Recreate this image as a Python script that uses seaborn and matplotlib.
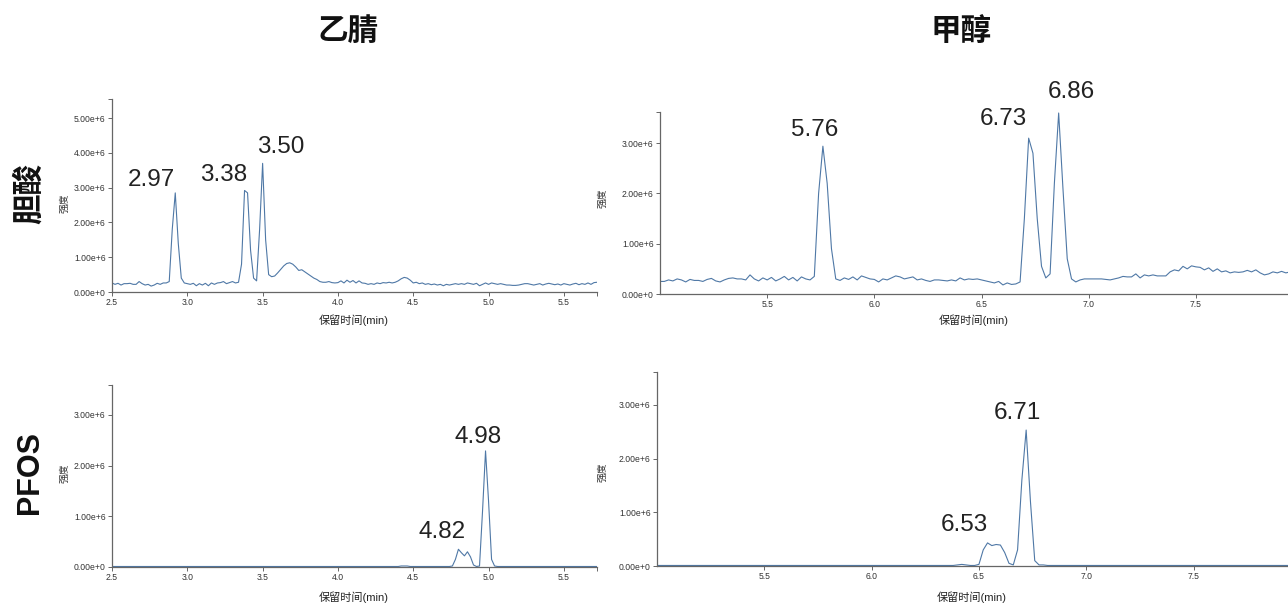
import numpy as np
import matplotlib
matplotlib.use("Agg")
import matplotlib.pyplot as plt
from matplotlib.ticker import FuncFormatter
import seaborn as sns

# column / row titles
col_titles = ["乙腈", "甲醇"]
row_titles = ["胆酸", "PFOS"]
x_label = "保留时间(min)"
y_label = "强度"

# sampling grids: start time (min) and step
acn_t0, meoh_t0, step = 2.50, 5.00, 0.02

# intensities in 1e6 units
cholic_acn = [
    0.26, 0.22, 0.25, 0.20, 0.24, 0.24, 0.25, 0.22, 0.22, 0.30,
    0.24, 0.20, 0.22, 0.17, 0.20, 0.25, 0.22, 0.26, 0.26, 0.30,
    1.80, 2.85, 1.40, 0.40, 0.26, 0.24, 0.22, 0.25, 0.18, 0.24,
    0.20, 0.25, 0.18, 0.26, 0.22, 0.26, 0.27, 0.30, 0.24, 0.27,
    0.30, 0.26, 0.28, 0.80, 2.92, 2.85, 1.20, 0.40, 0.32, 1.80,
    3.70, 1.50, 0.50, 0.44, 0.46, 0.55, 0.65, 0.75, 0.82, 0.84,
    0.80, 0.72, 0.62, 0.64, 0.58, 0.52, 0.46, 0.40, 0.36, 0.30,
    0.28, 0.28, 0.30, 0.27, 0.26, 0.27, 0.32, 0.26, 0.34, 0.28,
    0.33, 0.26, 0.32, 0.26, 0.25, 0.22, 0.24, 0.22, 0.26, 0.24,
    0.27, 0.26, 0.28, 0.26, 0.28, 0.32, 0.38, 0.42, 0.40, 0.34,
    0.26, 0.28, 0.24, 0.26, 0.22, 0.24, 0.21, 0.23, 0.20, 0.22,
    0.18, 0.22, 0.20, 0.22, 0.24, 0.22, 0.24, 0.22, 0.26, 0.24,
    0.22, 0.25, 0.18, 0.22, 0.26, 0.22, 0.26, 0.24, 0.22, 0.24,
    0.22, 0.20, 0.20, 0.19, 0.19, 0.20, 0.22, 0.24, 0.24, 0.22,
    0.20, 0.22, 0.24, 0.20, 0.23, 0.25, 0.23, 0.21, 0.23, 0.20,
    0.24, 0.22, 0.20, 0.23, 0.25, 0.21, 0.24, 0.22, 0.26, 0.22,
    0.27, 0.28,
]
cholic_meoh = [
    0.25, 0.25, 0.28, 0.26, 0.30, 0.28, 0.24, 0.29, 0.27, 0.27,
    0.25, 0.29, 0.31, 0.26, 0.24, 0.28, 0.31, 0.32, 0.30, 0.30,
    0.28, 0.38, 0.30, 0.26, 0.32, 0.28, 0.33, 0.26, 0.30, 0.35,
    0.28, 0.33, 0.26, 0.34, 0.30, 0.28, 0.35, 2.00, 2.94, 2.20,
    0.90, 0.30, 0.27, 0.32, 0.29, 0.34, 0.28, 0.36, 0.33, 0.30,
    0.29, 0.24, 0.30, 0.28, 0.32, 0.36, 0.34, 0.30, 0.32, 0.34,
    0.28, 0.30, 0.27, 0.25, 0.28, 0.28, 0.27, 0.26, 0.28, 0.26,
    0.32, 0.28, 0.30, 0.29, 0.30, 0.28, 0.26, 0.24, 0.22, 0.25,
    0.18, 0.22, 0.19, 0.20, 0.24, 1.50, 3.10, 2.80, 1.50, 0.55,
    0.32, 0.40, 2.20, 3.60, 2.10, 0.70, 0.30, 0.24, 0.28, 0.30,
    0.30, 0.30, 0.30, 0.30, 0.29, 0.28, 0.30, 0.32, 0.35, 0.34,
    0.34, 0.40, 0.32, 0.38, 0.36, 0.38, 0.36, 0.36, 0.36, 0.44,
    0.48, 0.46, 0.55, 0.50, 0.56, 0.54, 0.53, 0.48, 0.52, 0.45,
    0.50, 0.44, 0.46, 0.42, 0.44, 0.43, 0.44, 0.47, 0.44, 0.48,
    0.42, 0.38, 0.40, 0.44, 0.42, 0.45, 0.42, 0.44,
]
pfos_acn = [
    0.01, 0.01, 0.01, 0.01, 0.01, 0.01, 0.01, 0.01, 0.01, 0.01,
    0.01, 0.01, 0.01, 0.01, 0.01, 0.01, 0.01, 0.01, 0.01, 0.01,
    0.01, 0.01, 0.01, 0.01, 0.01, 0.01, 0.01, 0.01, 0.01, 0.01,
    0.01, 0.01, 0.01, 0.01, 0.01, 0.01, 0.01, 0.01, 0.01, 0.01,
    0.01, 0.01, 0.01, 0.01, 0.01, 0.01, 0.01, 0.01, 0.01, 0.01,
    0.01, 0.01, 0.01, 0.01, 0.01, 0.01, 0.01, 0.01, 0.01, 0.01,
    0.01, 0.01, 0.01, 0.01, 0.01, 0.01, 0.01, 0.01, 0.01, 0.01,
    0.01, 0.01, 0.01, 0.01, 0.01, 0.01, 0.01, 0.01, 0.01, 0.01,
    0.01, 0.01, 0.01, 0.01, 0.01, 0.01, 0.01, 0.01, 0.01, 0.01,
    0.01, 0.01, 0.01, 0.01, 0.01, 0.01, 0.02, 0.02, 0.02, 0.01,
    0.01, 0.01, 0.01, 0.01, 0.01, 0.01, 0.01, 0.01, 0.01, 0.01,
    0.01, 0.01, 0.01, 0.02, 0.15, 0.35, 0.28, 0.22, 0.30, 0.20,
    0.04, 0.01, 0.02, 1.10, 2.29, 1.30, 0.15, 0.02, 0.01, 0.01,
    0.01, 0.01, 0.01, 0.01, 0.01, 0.01, 0.01, 0.01, 0.01, 0.01,
    0.01, 0.01, 0.01, 0.01, 0.01, 0.01, 0.01, 0.01, 0.01, 0.01,
    0.01, 0.01, 0.01, 0.01, 0.01, 0.01, 0.01, 0.01, 0.01, 0.01,
    0.01, 0.01,
]
pfos_meoh = [
    0.01, 0.01, 0.01, 0.01, 0.01, 0.01, 0.01, 0.01, 0.01, 0.01,
    0.01, 0.01, 0.01, 0.01, 0.01, 0.01, 0.01, 0.01, 0.01, 0.01,
    0.01, 0.01, 0.01, 0.01, 0.01, 0.01, 0.01, 0.01, 0.01, 0.01,
    0.01, 0.01, 0.01, 0.01, 0.01, 0.01, 0.01, 0.01, 0.01, 0.01,
    0.01, 0.01, 0.01, 0.01, 0.01, 0.01, 0.01, 0.01, 0.01, 0.01,
    0.01, 0.01, 0.01, 0.01, 0.01, 0.01, 0.01, 0.01, 0.01, 0.01,
    0.01, 0.01, 0.01, 0.01, 0.01, 0.01, 0.01, 0.01, 0.01, 0.01,
    0.02, 0.03, 0.02, 0.01, 0.01, 0.03, 0.30, 0.43, 0.38, 0.40,
    0.39, 0.25, 0.05, 0.02, 0.30, 1.60, 2.53, 1.20, 0.10, 0.02,
    0.02, 0.01, 0.01, 0.01, 0.01, 0.01, 0.01, 0.01, 0.01, 0.01,
    0.01, 0.01, 0.01, 0.01, 0.01, 0.01, 0.01, 0.01, 0.01, 0.01,
    0.01, 0.01, 0.01, 0.01, 0.01, 0.01, 0.01, 0.01, 0.01, 0.01,
    0.01, 0.01, 0.01, 0.01, 0.01, 0.01, 0.01, 0.01, 0.01, 0.01,
    0.01, 0.01, 0.01, 0.01, 0.01, 0.01, 0.01, 0.01, 0.01, 0.01,
    0.01, 0.01, 0.01, 0.01, 0.01, 0.01, 0.01, 0.01,
]

# peak labels: (text, x, y in 1e6)
peaks_cholic_acn = [("2.97", 2.76, 3.22), ("3.38", 3.24, 3.36), ("3.50", 3.62, 4.17)]
peaks_cholic_meoh = [("5.76", 5.72, 3.26), ("6.73", 6.60, 3.49), ("6.86", 6.92, 4.02)]
peaks_pfos_acn = [("4.82", 4.69, 0.70), ("4.98", 4.93, 2.57)]
peaks_pfos_meoh = [("6.53", 6.43, 0.76), ("6.71", 6.68, 2.84)]

sns.set_theme(style="white")
plt.rcParams["font.family"] = ["Liberation Sans", "Noto Sans CJK SC", "DejaVu Sans"]

line_color = "#4f78a6"
W, H = 1288, 603
fig = plt.figure(figsize=(W / 100, H / 100), dpi=100)


def px_axes(l, r, t, b):
    return fig.add_axes([l / W, (H - b) / H, (r - l) / W, (b - t) / H])


def sci(v, pos):
    if abs(v) < 1e-9:
        return "0.00e+0"
    return f"{v / 1e6:.2f}e+6"


panels = [
    # (values, t0, xlim, ylim, yticks, axes px box, peaks, xticks)
    (cholic_acn, acn_t0, (2.5, 5.72), 5.55e6, [0, 1e6, 2e6, 3e6, 4e6, 5e6],
     (112, 597, 99, 292), peaks_cholic_acn, [2.5, 3.0, 3.5, 4.0, 4.5, 5.0, 5.5]),
    (cholic_meoh, meoh_t0, (5.0, 7.93), 3.62e6, [0, 1e6, 2e6, 3e6],
     (660, 1288, 112, 294), peaks_cholic_meoh, [5.5, 6.0, 6.5, 7.0, 7.5]),
    (pfos_acn, acn_t0, (2.5, 5.72), 3.59e6, [0, 1e6, 2e6, 3e6],
     (112, 597, 385, 567), peaks_pfos_acn, [2.5, 3.0, 3.5, 4.0, 4.5, 5.0, 5.5]),
    (pfos_meoh, meoh_t0, (5.0, 7.94), 3.61e6, [0, 1e6, 2e6, 3e6],
     (657, 1288, 372, 566), peaks_pfos_meoh, [5.5, 6.0, 6.5, 7.0, 7.5]),
]

for vals, t0, xlim, ytop, yticks, box, peaks, xticks in panels:
    ax = px_axes(*box)
    t = t0 + step * np.arange(len(vals))
    sns.lineplot(x=t, y=np.array(vals) * 1e6, ax=ax, color=line_color, linewidth=0.8)
    ax.set_xlim(*xlim)
    ax.set_ylim(0, ytop)
    ax.set_xticks(xticks)
    ax.set_xticklabels([f"{x:.1f}" for x in xticks])
    ax.set_yticks(yticks)
    ax.yaxis.set_major_formatter(FuncFormatter(sci))
    # outer ticks at the domain ends
    ax.set_xticks([xlim[1]], minor=True)
    ax.set_yticks([ytop], minor=True)
    for side in ["top", "right"]:
        ax.spines[side].set_visible(False)
    for side in ["left", "bottom"]:
        ax.spines[side].set_color("#666666")
        ax.spines[side].set_linewidth(0.9)
    ax.tick_params(axis="both", which="both", direction="out", length=3, width=0.7,
                   color="#666666", labelsize=6.2, labelcolor="#333333", pad=1.5,
                   left=True, bottom=True)
    ax.set_xlabel("")
    ax.set_ylabel("")
    ax.grid(False)
    for txt, px, py in peaks:
        ax.text(px, py * 1e6, txt, ha="center", va="center", fontsize=17.5,
                color="#222222", clip_on=False)

# axis labels placed like the source layout
for cx, cy in [(354, 320), (974, 320), (354, 597), (972, 597)]:
    fig.text(cx / W, 1 - cy / H, x_label, ha="center", va="center", fontsize=8, color="#222222")
for cx, cy in [(64, 203), (602, 198), (64, 473), (602, 472)]:
    fig.text(cx / W, 1 - cy / H, y_label, ha="center", va="center", rotation=90,
             fontsize=7, color="#333333")

# column and row titles
for cx, txt in [(348, col_titles[0]), (961, col_titles[1])]:
    fig.text(cx / W, 1 - 32 / H, txt, ha="center", va="center", fontsize=22,
             fontweight="bold", color="#111111")
for cy, txt in [(194, row_titles[0]), (473, row_titles[1])]:
    fig.text(30 / W, 1 - cy / H, txt, ha="center", va="center", rotation=90,
             fontsize=22, fontweight="bold", color="#111111")

fig.savefig("out.png", dpi=100)
